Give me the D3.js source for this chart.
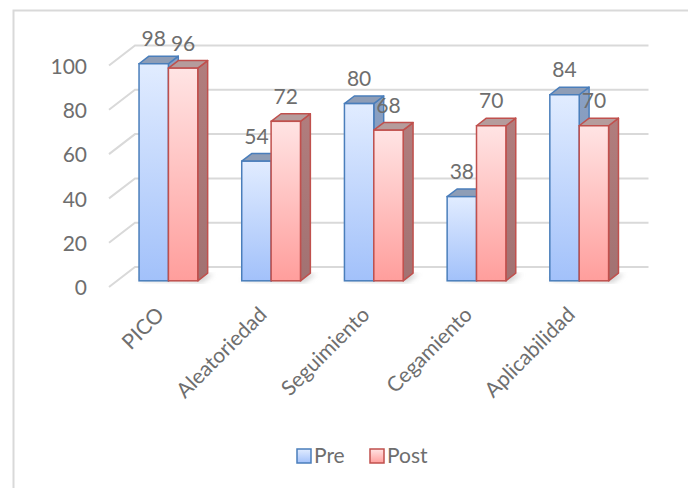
<!DOCTYPE html>
<html>
<head>
<meta charset="utf-8">
<script src="https://cdn.jsdelivr.net/npm/d3@7"></script>
<style>
  body { margin: 0; background: #fff; }
  svg { display: block; font-family: Lato, "Open Sans", sans-serif; }
</style>
</head>
<body>
<svg id="chart" width="688" height="488"></svg>
<script>
// chart data
const categories = ['PICO', 'Aleatoriedad', 'Seguimiento', 'Cegamiento', 'Aplicabilidad'];
const seriesNames = ['Pre', 'Post'];
const preValues = [98, 54, 80, 38, 84];
const postValues = [96, 72, 68, 70, 70];
const yTicks = [0, 20, 40, 60, 80, 100];

const svg = d3.select('#chart');
const textColour = '#6e6e6e';
const gridColour = '#d9d9d9';
const fontSize = '21px';

// fake 3d: front plane, bar plane and back wall
const front = { x: 109, y: 287 };
const depth = { dx: 26, dy: -20 };        // full depth of the floor
const barFront = 0.31, barBack = 0.69;    // where bars sit inside the depth

const x0 = d3.scaleBand().domain(categories).range([front.x, front.x + 513.5])
  .paddingInner(0.428).paddingOuter(0.214);
const x1 = d3.scaleBand().domain(seriesNames).range([0, x0.bandwidth()]);
const h = d3.scaleLinear().domain([0, 100]).range([0, 221.5]);

const colours = {
  Pre: { top: '#e1ecff', bottom: '#a2c1fa', stroke: '#4a7ebb', cap: '#8e9db6', side: '#7e92b2' },
  Post: { top: '#ffe4e4', bottom: '#ff9e9c', stroke: '#c0504d', cap: '#b59c9c', side: '#a27272' }
};

const defs = svg.append('defs');
seriesNames.forEach(s => {
  const g = defs.append('linearGradient').attr('id', 'grad-' + s)
    .attr('x1', 0).attr('y1', 0).attr('x2', 0).attr('y2', 1);
  g.append('stop').attr('offset', '0%').attr('stop-color', colours[s].top);
  g.append('stop').attr('offset', '100%').attr('stop-color', colours[s].bottom);
  const sg = defs.append('linearGradient').attr('id', 'side-' + s)
    .attr('x1', 0).attr('y1', 0).attr('x2', 0).attr('y2', 1);
  sg.append('stop').attr('offset', '0%').attr('stop-color', d3.color(colours[s].side).brighter(0.25));
  sg.append('stop').attr('offset', '100%').attr('stop-color', colours[s].side);
});
defs.append('filter').attr('id', 'blur').append('feGaussianBlur').attr('stdDeviation', 2.5);

// outer frame (only left and top edges show in the picture)
svg.append('rect')
  .attr('x', 13.5).attr('y', 10.5).attr('width', 700).attr('height', 500)
  .attr('fill', 'none').attr('stroke', '#d9d9d9').attr('stroke-width', 2);

// gridlines: short diagonal on the side wall, then across the back wall
const grid = svg.append('g').attr('class', 'grid');
yTicks.forEach(t => {
  const yf = front.y - h(t);
  const yb = yf + depth.dy;
  grid.append('path')
    .attr('d', `M${front.x},${yf}L${front.x + depth.dx},${yb}H${front.x + depth.dx + 513.5}`)
    .attr('fill', 'none').attr('stroke', gridColour).attr('stroke-width', 2);
});

// y tick labels
svg.append('g').selectAll('text').data(yTicks).join('text')
  .attr('x', 87).attr('y', d => front.y - h(d) + 1)
  .attr('dy', '0.35em').attr('text-anchor', 'end')
  .style('font-size', fontSize).style('fill', textColour)
  .text(d => d);

// bars
const rows = categories.map((c, i) => ({ cat: c, Pre: preValues[i], Post: postValues[i] }));
const ox = depth.dx * barFront, oy = depth.dy * barFront;
const bx = depth.dx * (barBack - barFront), by = depth.dy * (barBack - barFront);

const groups = svg.append('g').selectAll('g.group').data(rows).join('g').attr('class', 'group');

// soft shadow under each pair of bars
groups.append('path')
  .attr('d', d => {
    const L = x0(d.cat) + ox, R = L + x0.bandwidth(), b = front.y + oy;
    return `M${L},${b}L${R + 4},${b + 2}L${R + bx + 6},${b + by + 1}L${L + bx},${b + by}Z`;
  })
  .attr('fill', '#bfbfbf').attr('opacity', 0.7).attr('filter', 'url(#blur)');

seriesNames.forEach(s => {
  const bar = groups.append('g').attr('class', 'bar-' + s);
  const geo = d => {
    const L = x0(d.cat) + x1(s) + ox;
    const R = L + x1.bandwidth();
    const b = front.y + oy;
    const t = b - h(d[s]);
    return { L, R, b, t };
  };
  // side face
  bar.append('path')
    .attr('d', d => { const g = geo(d);
      return `M${g.R},${g.t}L${g.R + bx},${g.t + by}L${g.R + bx},${g.b + by}L${g.R},${g.b}Z`; })
    .attr('fill', 'url(#side-' + s + ')').attr('stroke', colours[s].stroke).attr('stroke-width', 1.5)
    .attr('stroke-linejoin', 'round');
  // top face
  bar.append('path')
    .attr('d', d => { const g = geo(d);
      return `M${g.L},${g.t}L${g.L + bx},${g.t + by}L${g.R + bx},${g.t + by}L${g.R},${g.t}Z`; })
    .attr('fill', colours[s].cap).attr('stroke', colours[s].stroke).attr('stroke-width', 1.5)
    .attr('stroke-linejoin', 'round');
  // front face
  bar.append('rect')
    .attr('x', d => geo(d).L).attr('y', d => geo(d).t)
    .attr('width', x1.bandwidth()).attr('height', d => h(d[s]))
    .attr('fill', 'url(#grad-' + s + ')').attr('stroke', colours[s].stroke).attr('stroke-width', 1.5);
});

// value labels
seriesNames.forEach(s => {
  svg.append('g').selectAll('text').data(rows).join('text')
    .attr('x', d => x0(d.cat) + x1(s) + ox + x1.bandwidth() / 2)
    .attr('y', d => front.y + oy - h(d[s]) - 25)
    .attr('dy', '0.35em').attr('text-anchor', 'middle')
    .style('font-size', fontSize).style('fill', textColour)
    .text(d => d[s]);
});

// category labels, rotated
svg.append('g').selectAll('text').data(categories).join('text')
  .attr('transform', d => `translate(${x0(d) + ox + x0.bandwidth() / 2 - 3},316) rotate(-45)`)
  .attr('text-anchor', 'end')
  .style('font-size', fontSize).style('fill', textColour)
  .text(d => d);

// legend
const legend = svg.append('g').attr('transform', 'translate(297,449)');
const legendX = [0, 73];
seriesNames.forEach((s, i) => {
  const item = legend.append('g').attr('transform', `translate(${legendX[i]},0)`);
  item.append('rect').attr('width', 14).attr('height', 14)
    .attr('fill', 'url(#grad-' + s + ')').attr('stroke', colours[s].stroke).attr('stroke-width', 1.5);
  item.append('text').attr('x', 17).attr('y', 7).attr('dy', '0.35em')
    .style('font-size', fontSize).style('fill', textColour)
    .text(s);
});
</script>
</body>
</html>
